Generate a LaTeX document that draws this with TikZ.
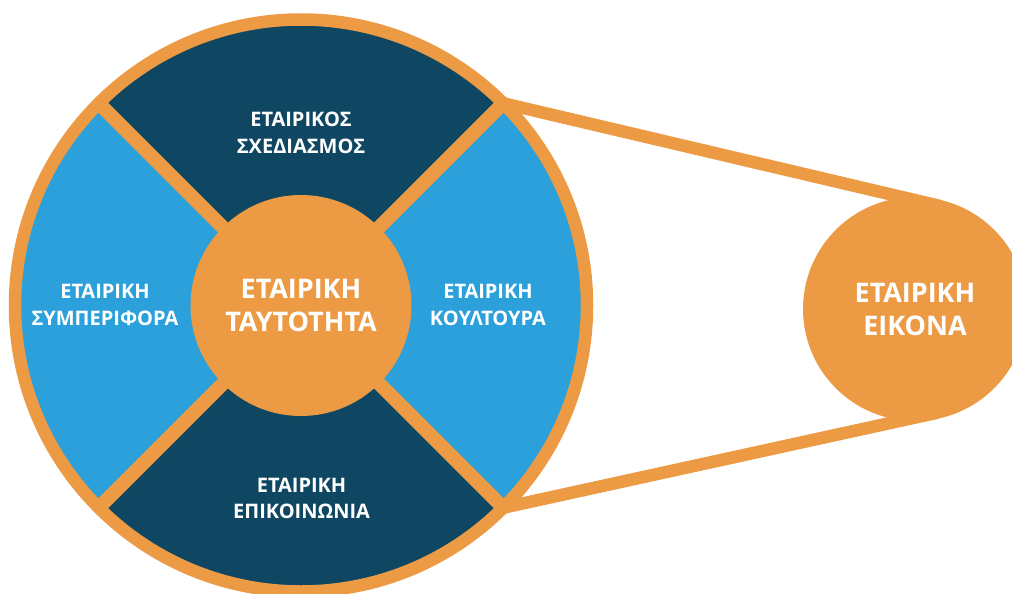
\documentclass[tikz,border=0pt]{standalone}
\usepackage{fontspec}
\setmainfont{Open Sans}
\usetikzlibrary{calc}
\definecolor{ringorange}{HTML}{EC9A44}
\definecolor{navy}{HTML}{0F4763}
\definecolor{skyblue}{HTML}{2BA0DB}

\begin{document}
\begin{tikzpicture}[x=1pt,y=-1pt,
  seglabel/.style={text=white, align=center, inner sep=0pt,
    font=\bfseries\fontsize{20}{26.5}\selectfont},
  biglabel/.style={text=white, align=center,
    font=\bfseries\fontsize{27}{33}\selectfont},
  divider/.style={draw=ringorange, line width=14pt},
  belt/.style={draw=ringorange, line width=12.5pt}]
\useasboundingbox (0,0) rectangle (1012,594);
\clip (0,0) rectangle (1012,594);

% centre of the wheel and the ends of its two diagonals
\def\R{286}
\coordinate (c) at (301,305.5);
\coordinate (ul) at ($(c)+(-202.2,-202.2)$);
\coordinate (ur) at ($(c)+(202.2,-202.2)$);
\coordinate (ll) at ($(c)+(-202.2,202.2)$);
\coordinate (lr) at ($(c)+(202.2,202.2)$);

% four quadrants: light blue left/right, navy top/bottom
\fill[skyblue] (c) circle (\R);
\begin{scope}
  \clip (c) circle (\R);
  \fill[navy] (c) -- ($(c)+(-400,-400)$) -- ($(c)+(400,-400)$) -- cycle;
  \fill[navy] (c) -- ($(c)+(-400,400)$) -- ($(c)+(400,400)$) -- cycle;
\end{scope}

% diagonal dividers and outer rim
\draw[divider] (ul) -- (lr);
\draw[divider] (ll) -- (ur);
\draw[ringorange, line width=12.5pt] (c) circle (\R);

% belt running to the image circle (tangent points)
\coordinate (tu) at (939.2,205.8);
\coordinate (tl) at (937.7,412.6);
\draw[belt] (ur) -- (tu);
\draw[belt] (lr) -- (tl);

% hub and image circle
\node[circle, fill=ringorange, minimum size=221pt, inner sep=0pt, biglabel]
  (hub) at (c) {ΕΤΑΙΡΙΚΗ\\ΤΑΥΤΟΤΗΤΑ};
\node[circle, fill=ringorange, minimum size=224pt, inner sep=0pt, biglabel]
  (image) at (915,309) {ΕΤΑΙΡΙΚΗ\\ΕΙΚΟΝΑ};

% quadrant labels
\node[seglabel] (plan)  at (301,132.8) {ΕΤΑΙΡΙΚΟΣ\\ΣΧΕΔΙΑΣΜΟΣ};
\node[seglabel] (behav) at (105,305)   {ΕΤΑΙΡΙΚΗ\\ΣΥΜΠΕΡΙΦΟΡΑ};
\node[seglabel] (cult)  at (488,305)   {ΕΤΑΙΡΙΚΗ\\ΚΟΥΛΤΟΥΡΑ};
\node[seglabel] (comm)  at (301.6,498.5) {ΕΤΑΙΡΙΚΗ\\ΕΠΙΚΟΙΝΩΝΙΑ};
\end{tikzpicture}
\end{document}
